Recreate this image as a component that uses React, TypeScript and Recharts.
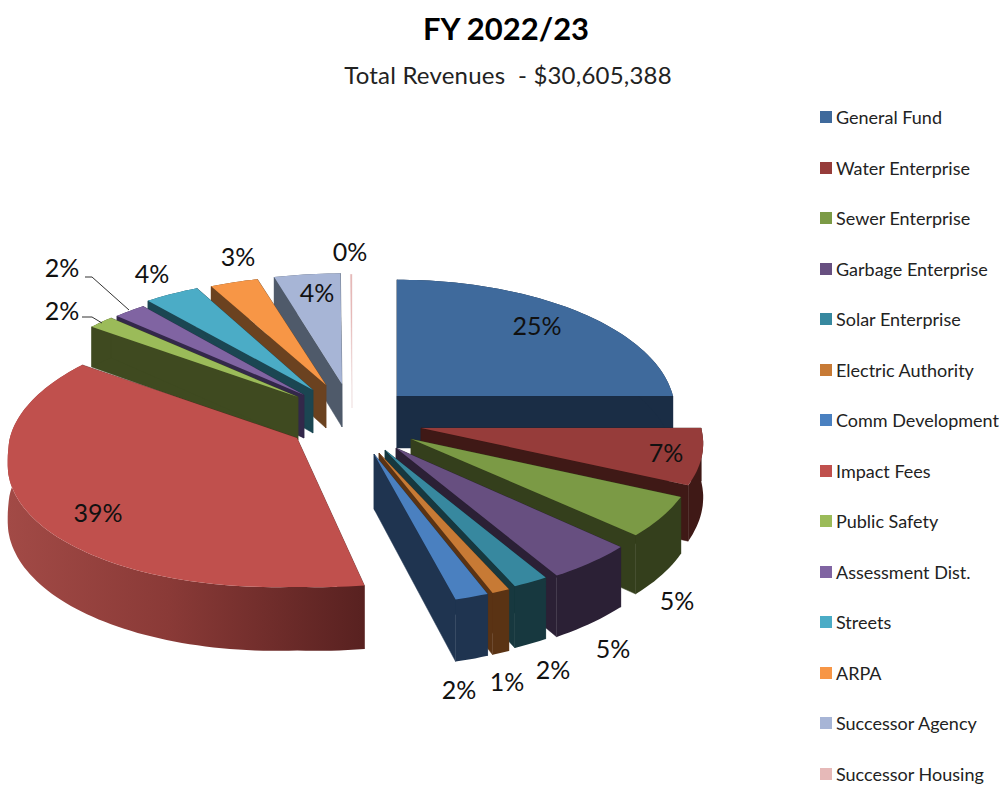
import { PieChart, Pie, Legend } from "recharts";

const funds = [
  "General Fund",
  "Water Enterprise",
  "Sewer Enterprise",
  "Garbage Enterprise",
  "Solar Enterprise",
  "Electric Authority",
  "Comm Development",
  "Impact Fees",
  "Public Safety",
  "Assessment Dist.",
  "Streets",
  "ARPA",
  "Successor Agency",
  "Successor Housing",
];
const shares = [25, 7, 5, 4.5, 1.8, 0.9, 1.7, 39.3, 1.7, 2.1, 3.5, 3.1, 4.3, 0.1];
const topColors = [
  "#3f6a9c", "#963c3a", "#7b9a45", "#674f80", "#37889f", "#c77a35", "#4a80c0",
  "#c0504d", "#9bbb59", "#8064a2", "#4bacc6", "#f79646", "#a7b5d6", "#e6b9b8",
];
const wallColors = [
  "#1a2d45", "#3f1916", "#343f1c", "#2b2035", "#17383f", "#5a3314", "#1f3450",
  "#5a2220", "#3f4a20", "#33284a", "#1b4652", "#6b4220", "#4f5a6a", "#f2e4e4",
];

const chartW = 1004;
const chartH = 787;
const pieX = 396;
const pieY = 396;
const radius = 283;
const flatten = 0.456;
const perspective = 0.12;

// explode offset from the pie centre, plus size tweaks per slice
type SliceFit = { dx: number; dy: number; scale?: number; tall?: number; trim?: number; belly?: number; depth: number };
const sliceLayout: Record<string, SliceFit> = {
  "General Fund": { dx: 1, dy: 0, scale: 0.975, tall: 1.035, depth: 52 },
  "Water Enterprise": { dx: 25, dy: 32, scale: 0.99, depth: 53 },
  "Sewer Enterprise": { dx: 15, dy: 43, depth: 54 },
  "Garbage Enterprise": { dx: 0, dy: 52, tall: 1.03, depth: 55 },
  "Solar Enterprise": { dx: -11, dy: 54, tall: 1.03, depth: 55 },
  "Electric Authority": { dx: -17, dy: 57, tall: 1.03, depth: 55 },
  "Comm Development": { dx: -22, dy: 58, tall: 1.03, depth: 55 },
  "Impact Fees": { dx: -99, dy: 42, scale: 1.015, trim: 2.8, belly: 11, depth: 56 },
  "Public Safety": { dx: -98, dy: 1, scale: 0.975, depth: 43 },
  "Assessment Dist.": { dx: -92, dy: -1, scale: 0.975, depth: 43 },
  Streets: { dx: -83, dy: -6, tall: 0.98, depth: 43 },
  ARPA: { dx: -70, dy: -11, scale: 0.99, tall: 0.96, depth: 43 },
  "Successor Agency": { dx: -54, dy: -12, scale: 0.98, tall: 0.98, depth: 43 },
  "Successor Housing": { dx: -44, dy: -10, tall: 0.97, depth: 22 },
};

const labelSpots: Record<string, { x: number; y: number; line?: string }> = {
  "General Fund": { x: 537, y: 325 },
  "Water Enterprise": { x: 666, y: 452 },
  "Sewer Enterprise": { x: 677, y: 600 },
  "Garbage Enterprise": { x: 613, y: 648 },
  "Solar Enterprise": { x: 553, y: 669 },
  "Electric Authority": { x: 507, y: 681 },
  "Comm Development": { x: 459, y: 689 },
  "Impact Fees": { x: 98, y: 512 },
  "Public Safety": { x: 62, y: 310, line: "M82 317L92 317L102 323" },
  "Assessment Dist.": { x: 62, y: 267, line: "M85 277L92 277L129 310" },
  Streets: { x: 152, y: 273 },
  ARPA: { x: 238, y: 256 },
  "Successor Agency": { x: 317, y: 292 },
  "Successor Housing": { x: 350, y: 251 },
};

const rows = funds.map((name, i) => ({
  name,
  value: shares[i],
  fill: topColors[i],
  wall: wallColors[i],
}));
const frontRows = rows.slice(0, 7);
// the back half is painted from the top of the pie anticlockwise so nearer slices cover farther ones
const backRows = rows.slice(7).reverse();
const total = shares.reduce((a, b) => a + b, 0);
const frontShare = frontRows.reduce((a, r) => a + r.value, 0) / total;
const frontEnd = 90 - 360 * frontShare;
const backEnd = 90 + 360 * (1 - frontShare);

function poly(pts: number[][]) {
  return "M" + pts.map((p) => p[0].toFixed(1) + " " + p[1].toFixed(1)).join("L") + "Z";
}

function Slice3D(props: any) {
  const { cx, cy, outerRadius, startAngle, endAngle, name, fill, payload } = props;
  const entry = payload ?? props;
  const key = name ?? entry.name;
  const cfg = sliceLayout[key];
  const ox = cx + cfg.dx;
  const oy = cy + cfg.dy;
  const k = cfg.scale ?? 1;
  const tall = cfg.tall ?? 1;
  const belly = cfg.belly ?? 0;
  const a0 = 90 - Math.max(startAngle, endAngle) + (cfg.trim ?? 0);
  const a1 = 90 - Math.min(startAngle, endAngle);
  const steps = Math.max(2, Math.ceil((a1 - a0) / 1.5));
  const rim: number[][] = [];
  const rimLow: number[][] = [];
  for (let i = 0; i <= steps; i++) {
    const t = ((a0 + ((a1 - a0) * i) / steps) * Math.PI) / 180;
    const u = Math.sin(t);
    const v = Math.cos(t);
    const s = 1 / (1 + perspective * v);
    const sag = v < 0 ? belly * Math.abs(u) * Math.min(1, -v * 6) : 0;
    const x = ox + outerRadius * k * u * s;
    const y = oy - outerRadius * flatten * k * tall * v * s + sag;
    rim.push([x, y]);
    rimLow.push([x, y + cfg.depth * s]);
  }
  const apex = [ox, oy];
  const apexLow = [ox, oy + cfg.depth];
  const wall = key === "Impact Fees" ? "url(#impactWall)" : entry.wall;
  const solid = entry.wall;
  const last = rim.length - 1;
  return (
    <g>
      <path d={poly([apex, rim[0], rimLow[0], apexLow])} fill={solid} stroke={solid} strokeWidth={0.5} />
      <path d={poly([apex, rim[last], rimLow[last], apexLow])} fill={solid} stroke={solid} strokeWidth={0.5} />
      <path d={poly([...rim, ...rimLow.slice().reverse()])} fill={wall} />
      <path d={poly([apex, ...rim])} fill={fill ?? entry.fill} />
    </g>
  );
}

function percentLabel(props: any) {
  const key = props.name ?? props.payload?.name;
  const spot = labelSpots[key];
  return (
    <g key={key}>
      {spot.line && <path d={spot.line} fill="none" stroke="#333" strokeWidth={1} />}
      <text
        x={spot.x}
        y={spot.y}
        textAnchor="middle"
        dominantBaseline="central"
        fontFamily="Lato, sans-serif"
        fontSize={25}
        fill="#111"
      >
        {Math.round(props.value)}%
      </text>
    </g>
  );
}

function FundLegend({ payload }: any) {
  const items = [...(payload ?? [])].sort(
    (a: any, b: any) => funds.indexOf(a.value) - funds.indexOf(b.value)
  );
  return (
    <div style={{ position: "absolute", left: 820, top: 92, width: 184 }}>
      {items.map((item: any) => (
        <div
          key={item.value}
          style={{
            height: 50.5,
            display: "flex",
            alignItems: "center",
            fontFamily: "Lato, sans-serif",
            fontSize: 18,
            color: "#222",
            whiteSpace: "nowrap",
          }}
        >
          <span
            style={{
              width: 12,
              height: 12,
              marginRight: 4,
              background: topColors[funds.indexOf(item.value)],
            }}
          />
          {item.value}
        </div>
      ))}
    </div>
  );
}

export default function App() {
  return (
    <div style={{ position: "absolute", left: 0, top: 0, width: chartW, height: chartH, overflow: "hidden", background: "#fff" }}>
      <PieChart width={chartW} height={chartH} margin={{ top: 0, right: 0, bottom: 0, left: 0 }}>
        <defs>
          <linearGradient id="impactWall" x1="0" y1="0" x2="1" y2="0">
            <stop offset="0" stopColor="#a24a46" />
            <stop offset="0.45" stopColor="#8a3a37" />
            <stop offset="1" stopColor="#582120" />
          </linearGradient>
        </defs>
        <text x={506} y={28} textAnchor="middle" dominantBaseline="central" fontFamily="Lato, sans-serif" fontWeight={700} fontSize={31} fill="#000">
          FY 2022/23
        </text>
        <text x={508} y={74} textAnchor="middle" dominantBaseline="central" fontFamily="Lato, sans-serif" fontSize={24} letterSpacing={0.2} fill="#222" style={{ whiteSpace: "pre" }}>
          Total Revenues  - $30,605,388
        </text>
        <Pie
          data={backRows}
          dataKey="value"
          nameKey="name"
          cx={pieX}
          cy={pieY}
          outerRadius={radius}
          startAngle={90}
          endAngle={backEnd}
          stroke="none"
          shape={Slice3D}
          label={percentLabel}
          labelLine={false}
          isAnimationActive={false}
        />
        <Pie
          data={frontRows}
          dataKey="value"
          nameKey="name"
          cx={pieX}
          cy={pieY}
          outerRadius={radius}
          startAngle={90}
          endAngle={frontEnd}
          stroke="none"
          shape={Slice3D}
          label={percentLabel}
          labelLine={false}
          isAnimationActive={false}
        />
        <Legend content={<FundLegend />} wrapperStyle={{ left: 0, top: 0, width: 0, height: 0 }} />
      </PieChart>
    </div>
  );
}
